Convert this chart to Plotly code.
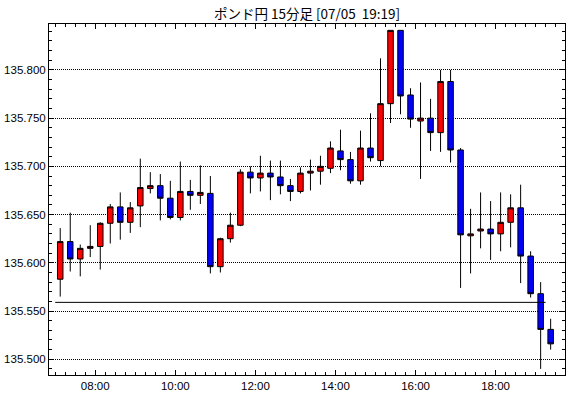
import pandas as pd
import plotly.graph_objects as go

# ---- data -------------------------------------------------------------
title_text = "ポンド円 15分足 [07/05\u00a0 19:19]"
day = "2023-07-05"
start_time = "07:00"
n_candles = 50

opens = [135.583, 135.622, 135.604, 135.615, 135.617, 135.641, 135.658, 135.642, 135.659, 135.677,
         135.680, 135.667, 135.647, 135.674, 135.670, 135.672, 135.596, 135.625, 135.639, 135.694,
         135.688, 135.693, 135.689, 135.680, 135.674, 135.693, 135.695, 135.698, 135.716, 135.707,
         135.685, 135.719, 135.706, 135.765, 135.841, 135.774, 135.747, 135.750, 135.735, 135.788,
         135.717, 135.628, 135.633, 135.635, 135.630, 135.642, 135.657, 135.607, 135.568, 135.531]
highs = [135.636, 135.652, 135.619, 135.639, 135.642, 135.661, 135.673, 135.663, 135.708, 135.694,
         135.692, 135.685, 135.705, 135.686, 135.701, 135.690, 135.626, 135.652, 135.697, 135.700,
         135.711, 135.706, 135.706, 135.687, 135.699, 135.707, 135.711, 135.726, 135.738, 135.715,
         135.737, 135.755, 135.812, 135.841, 135.841, 135.781, 135.787, 135.770, 135.800, 135.800,
         135.719, 135.656, 135.673, 135.664, 135.673, 135.671, 135.681, 135.612, 135.580, 135.542]
lows = [135.565, 135.591, 135.586, 135.606, 135.593, 135.620, 135.624, 135.631, 135.637, 135.672,
        135.644, 135.645, 135.644, 135.655, 135.661, 135.589, 135.590, 135.621, 135.638, 135.672,
        135.674, 135.665, 135.671, 135.664, 135.672, 135.675, 135.681, 135.693, 135.696, 135.682,
        135.681, 135.705, 135.700, 135.745, 135.754, 135.740, 135.687, 135.716, 135.715, 135.704,
        135.574, 135.589, 135.615, 135.603, 135.612, 135.616, 135.579, 135.564, 135.490, 135.510]
closes = [135.622, 135.604, 135.615, 135.617, 135.641, 135.658, 135.642, 135.657, 135.678, 135.680,
          135.667, 135.647, 135.674, 135.670, 135.673, 135.596, 135.625, 135.639, 135.694, 135.688,
          135.693, 135.689, 135.680, 135.674, 135.693, 135.695, 135.700, 135.719, 135.707, 135.685,
          135.719, 135.709, 135.765, 135.841, 135.773, 135.749, 135.750, 135.735, 135.788, 135.717,
          135.629, 135.630, 135.635, 135.630, 135.642, 135.657, 135.607, 135.568, 135.531, 135.516]
ref_level = 135.559

tick_labels_y = ["135.500", "135.550", "135.600", "135.650", "135.700", "135.750", "135.800"]

# ---- derived ----------------------------------------------------------
bar_starts = pd.date_range(f"{day} {start_time}", periods=n_candles, freq="15min")
bar_centers = bar_starts + pd.Timedelta(minutes=7.5)
tick_vals_y = [float(v) for v in tick_labels_y]

fig = go.Figure()
fig.add_trace(go.Candlestick(
    x=bar_centers, open=opens, high=highs, low=lows, close=closes,
    increasing=dict(line=dict(color="black", width=1), fillcolor="#ff0000"),
    decreasing=dict(line=dict(color="black", width=1), fillcolor="#0000ff"),
    whiskerwidth=0, showlegend=False, hoverinfo="skip",
))
fig.add_trace(go.Scatter(
    x=[bar_starts[0], bar_starts[-1]], y=[ref_level, ref_level],
    mode="lines", line=dict(color="black", width=1), showlegend=False, hoverinfo="skip",
))

axis_font = dict(family="Liberation Sans", size=11.5, color="black")
fig.update_layout(
    width=570, height=398,
    margin=dict(l=49, r=5, t=24, b=23),
    paper_bgcolor="white", plot_bgcolor="white",
    boxgap=0.45, boxgroupgap=0,
    title=dict(text=title_text, x=0.5, xref="paper", xanchor="center",
               y=1 - 14 / 398, yref="container", yanchor="middle",
               font=dict(family="Noto Sans CJK JP", size=13.5, color="black")),
    xaxis=dict(
        type="date", automargin=False,
        range=[f"{day} 06:50:40", f"{day} 19:44:00"],
        rangeslider=dict(visible=False),
        showline=True, linecolor="black", linewidth=1, mirror="ticks",
        ticks="inside", ticklen=5, tickcolor="black", tickwidth=1,
        tick0=f"{day} 00:00", dtick=7200000, tickformat="%H:%M",
        showgrid=False, zeroline=False, tickfont=axis_font,
        minor=dict(ticks="inside", ticklen=3, tickcolor="black", dtick=900000,
                   tick0=f"{day} 00:00", showgrid=False),
    ),
    yaxis=dict(
        automargin=False,
        range=[135.4837, 135.8476],
        showline=True, linecolor="black", linewidth=1, mirror="ticks",
        ticks="inside", ticklen=5, tickcolor="black", tickwidth=1,
        tickmode="array", tickvals=tick_vals_y, ticktext=tick_labels_y,
        showgrid=True, gridcolor="black", gridwidth=1, griddash="1px,1px",
        zeroline=False, tickfont=axis_font,
        minor=dict(ticks="inside", ticklen=3, tickcolor="black", dtick=0.01,
                   tick0=135.5, showgrid=False),
    ),
)

fig.write_html("out.html",
               config={"displayModeBar": False, "staticPlot": True},
               post_script="document.body.style.margin='0';document.body.style.overflow='hidden';")
